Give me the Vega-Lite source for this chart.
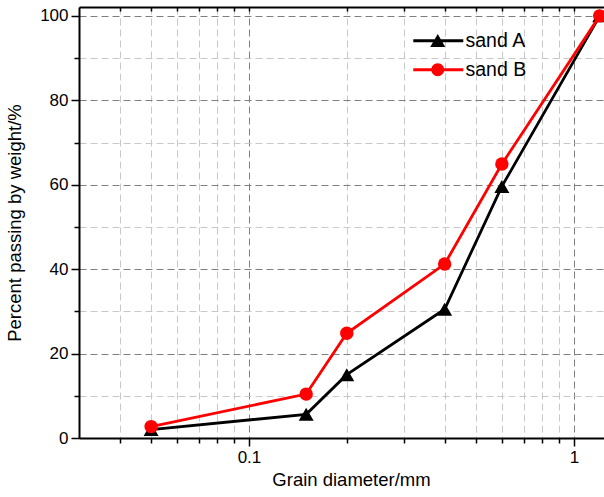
{
  "$schema": "https://vega.github.io/schema/vega-lite/v6.json",
  "width": 532,
  "height": 431,
  "autosize": {"type": "none"},
  "padding": {"left": 79, "top": 7, "right": 0, "bottom": 59},
  "background": "white",
  "data": {
    "values": [
      {"series": "sand A", "d": 0.05, "p": 2},
      {"series": "sand A", "d": 0.15, "p": 5.6},
      {"series": "sand A", "d": 0.2, "p": 15},
      {"series": "sand A", "d": 0.4, "p": 30.5},
      {"series": "sand A", "d": 0.6, "p": 59.6},
      {"series": "sand A", "d": 1.2, "p": 100},
      {"series": "sand B", "d": 0.05, "p": 2.7},
      {"series": "sand B", "d": 0.15, "p": 10.4},
      {"series": "sand B", "d": 0.2, "p": 24.8},
      {"series": "sand B", "d": 0.4, "p": 41.2},
      {"series": "sand B", "d": 0.6, "p": 64.9},
      {"series": "sand B", "d": 1.2, "p": 100}
    ]
  },
  "config": {
    "view": {"stroke": null},
    "font": "Liberation Sans",
    "axis": {
      "labelFont": "Liberation Sans",
      "titleFont": "Liberation Sans",
      "labelColor": "black",
      "titleColor": "black",
      "labelFontSize": 17,
      "titleFontSize": 18.5,
      "titleFontWeight": "normal",
      "domainColor": "black",
      "domainWidth": 2,
      "tickColor": "black",
      "tickWidth": 1.5,
      "gridDash": [7, 4],
      "gridWidth": 1,
      "labelOverlap": false,
      "labelFlush": false
    },
    "legend": {
      "orient": "none",
      "legendX": 349,
      "labelFont": "Liberation Sans",
      "labelFontSize": 19.5,
      "labelColor": "black",
      "labelOffset": 18,
      "padding": 0,
      "symbolSize": 256,
      "symbolStrokeWidth": 0,
      "symbolOpacity": 1
    }
  },
  "resolve": {"axis": {"x": "independent"}},
  "layer": [
    {
      "transform": [{"filter": "datum.series === 'sand A'"}],
      "mark": {"type": "line", "color": "black", "strokeWidth": 2.8, "clip": false},
      "encoding": {
        "x": {
          "field": "d",
          "type": "quantitative",
          "scale": {"type": "log", "domain": [0.03, 1.3], "nice": false},
          "axis": {
            "orient": "bottom",
            "title": "Grain diameter/mm",
            "values": [0.04, 0.05, 0.06, 0.07, 0.08, 0.09, 0.1, 0.2, 0.3, 0.4, 0.5, 0.6, 0.7, 0.8, 0.9, 1],
            "grid": true,
            "gridColor": {"condition": {"test": "datum.value === 0.1 || datum.value === 1", "value": "#7f7f7f"}, "value": "#c8c8c8"},
            "tickSize": {"condition": {"test": "datum.value === 0.1 || datum.value === 1", "value": 8}, "value": 5},
            "labelExpr": "datum.value === 0.1 ? '0.1' : (datum.value === 1 ? '1' : '')",
            "labelPadding": 3,
            "titlePadding": 5,
            "titleX": 272
          }
        },
        "y": {
          "field": "p",
          "type": "quantitative",
          "scale": {"domain": [0, 102.1], "nice": false},
          "axis": {
            "orient": "left",
            "title": "Percent passing by weight/%",
            "values": [0, 10, 20, 30, 40, 50, 60, 70, 80, 90, 100],
            "grid": true,
            "gridColor": {"condition": {"test": "datum.value % 20 === 0", "value": "#7f7f7f"}, "value": "#c8c8c8"},
            "tickSize": {"condition": {"test": "datum.value % 20 === 0", "value": 8}, "value": 5},
            "labelExpr": "datum.value % 20 === 0 ? datum.label : ''",
            "labelPadding": 3,
            "titlePadding": 15
          }
        }
      }
    },
    {
      "transform": [{"filter": "datum.series === 'sand A'"}],
      "mark": {"type": "point", "shape": "triangle-up", "filled": true, "opacity": 1, "size": 225, "clip": false},
      "encoding": {
        "x": {"field": "d", "type": "quantitative", "axis": null},
        "y": {"field": "p", "type": "quantitative"},
        "color": {
          "field": "series",
          "type": "nominal",
          "scale": {"domain": ["sand A"], "range": ["#000000"]},
          "legend": {
            "title": null,
            "legendY": 24,
            "symbolType": "M-3.06,-0.19H-0.4V0.19H-3.06Z M0.4,-0.19H3.19V0.19H0.4Z M0,-0.85L0.94,0.78L-0.94,0.78Z"
          }
        }
      }
    },
    {
      "transform": [{"filter": "datum.series === 'sand B'"}],
      "mark": {"type": "line", "color": "#ff0000", "strokeWidth": 2.8, "clip": false},
      "encoding": {
        "x": {
          "field": "d",
          "type": "quantitative",
          "axis": {
            "orient": "top",
            "values": [0.04, 0.05, 0.06, 0.07, 0.08, 0.09, 0.1, 0.2, 0.3, 0.4, 0.5, 0.6, 0.7, 0.8, 0.9, 1],
            "labels": false,
            "grid": false,
            "title": null,
            "tickSize": -4
          }
        },
        "y": {"field": "p", "type": "quantitative"}
      }
    },
    {
      "transform": [{"filter": "datum.series === 'sand B'"}],
      "mark": {"type": "point", "shape": "circle", "filled": true, "opacity": 1, "size": 180, "clip": false},
      "encoding": {
        "x": {"field": "d", "type": "quantitative", "axis": null},
        "y": {"field": "p", "type": "quantitative"},
        "fill": {
          "field": "series",
          "type": "nominal",
          "scale": {"domain": ["sand B"], "range": ["#ff0000"]},
          "legend": {
            "title": null,
            "legendY": 53,
            "symbolType": "M-3.06,-0.19H-0.7V0.19H-3.06Z M0.7,-0.19H3.19V0.19H0.7Z M0.81,0A0.81,0.81 0 1,1 -0.81,0A0.81,0.81 0 1,1 0.81,0Z"
          }
        }
      }
    }
  ]
}
